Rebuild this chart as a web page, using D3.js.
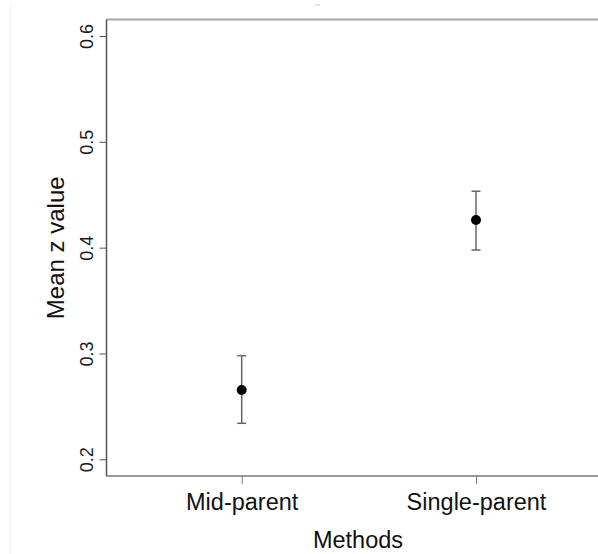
<!DOCTYPE html>
<html>
<head>
<meta charset="utf-8">
<script src="https://cdn.jsdelivr.net/npm/d3@7/dist/d3.min.js"></script>
<style>
  html, body { margin: 0; padding: 0; background: #fff; }
  svg { display: block; }
  text { font-family: "Liberation Sans", Arial, Helvetica, sans-serif; }
</style>
</head>
<body>
<svg id="chart" width="598" height="554"></svg>
<script>
// ---- data ----
const categories = ["Mid-parent", "Single-parent"];
const means = [0.2655, 0.4262];
const lowers = [0.2340, 0.3978];
const uppers = [0.2979, 0.4533];
const yTicks = [0.2, 0.3, 0.4, 0.5, 0.6];
const xTitle = "Methods";
const yTitle = "Mean z value";

// ---- layout ----
const svg = d3.select("#chart");
const plot = { left: 106.5, top: 19.5, right: 611, bottom: 476 };

const y = d3.scaleLinear().domain([0.1842, 0.6156]).range([plot.bottom, plot.top]);
const x = d3.scalePoint().domain(categories).range([241.7, 476]);

// faint frame line at far left
svg.append("line").attr("x1", 10.5).attr("x2", 10.5).attr("y1", 5).attr("y2", 554)
  .attr("stroke", "#f1f1f1").attr("stroke-width", 1);
svg.append("line").attr("x1", 315).attr("x2", 320).attr("y1", 5).attr("y2", 5)
  .attr("stroke", "#c8c8c8").attr("stroke-width", 1);

// box: top and bottom
svg.append("line").attr("x1", plot.left).attr("x2", plot.right).attr("y1", plot.top).attr("y2", plot.top)
  .attr("stroke", "#a8a8a8").attr("stroke-width", 2);
svg.append("line").attr("x1", plot.left).attr("x2", plot.right).attr("y1", plot.bottom).attr("y2", plot.bottom)
  .attr("stroke", "#999").attr("stroke-width", 2);

// y axis
const gy = svg.append("g").attr("transform", `translate(${plot.left},0)`)
  .call(d3.axisLeft(y).tickValues(yTicks).tickFormat(d3.format(".1f")).tickSize(7).tickSizeOuter(0));
gy.select(".domain").attr("stroke", "#555").attr("stroke-width", 1.5)
  .attr("d", `M0,${plot.top}V${plot.bottom}`);
gy.selectAll(".tick line").attr("stroke", "#555").attr("stroke-width", 1);
gy.selectAll(".tick text")
  .attr("transform", "rotate(-90)")
  .attr("x", 0).attr("y", -13.5).attr("dy", 0)
  .attr("text-anchor", "middle")
  .attr("fill", "#1a1a1a")
  .style("font-size", "18px");

// x axis
const gx = svg.append("g").attr("transform", `translate(0,${plot.bottom})`)
  .call(d3.axisBottom(x).tickSize(8).tickSizeOuter(0));
gx.select(".domain").remove();
gx.selectAll(".tick line").attr("stroke", "#777").attr("stroke-width", 1);
gx.selectAll(".tick text")
  .attr("y", 34).attr("dy", 0)
  .attr("fill", "#111")
  .style("font-size", "23.5px");

// axis titles
svg.append("text").attr("x", 358).attr("y", 548).attr("text-anchor", "middle")
  .style("font-size", "23.5px").attr("fill", "#111").text(xTitle);
svg.append("text")
  .attr("transform", `translate(64,${(plot.top + plot.bottom) / 2}) rotate(-90)`)
  .attr("text-anchor", "middle")
  .style("font-size", "24px").attr("fill", "#111").text(yTitle);

// error bars
const rows = categories.map((c, i) => ({ c, m: means[i], lo: lowers[i], hi: uppers[i] }));
const eb = svg.append("g");
eb.selectAll("line.v").data(rows).join("line").attr("class", "v")
  .attr("x1", d => x(d.c)).attr("x2", d => x(d.c))
  .attr("y1", d => y(d.lo)).attr("y2", d => y(d.hi))
  .attr("stroke", "#666").attr("stroke-width", 1.5);
eb.selectAll("line.top").data(rows).join("line").attr("class", "top")
  .attr("x1", d => x(d.c) - 4.5).attr("x2", d => x(d.c) + 4.5)
  .attr("y1", d => y(d.hi)).attr("y2", d => y(d.hi))
  .attr("stroke", "#666").attr("stroke-width", 1.5);
eb.selectAll("line.bot").data(rows).join("line").attr("class", "bot")
  .attr("x1", d => x(d.c) - 4.5).attr("x2", d => x(d.c) + 4.5)
  .attr("y1", d => y(d.lo)).attr("y2", d => y(d.lo))
  .attr("stroke", "#666").attr("stroke-width", 1.5);

// points
svg.append("g").selectAll("circle").data(rows).join("circle")
  .attr("cx", d => x(d.c)).attr("cy", d => y(d.m)).attr("r", 5)
  .attr("fill", "#000");
</script>
</body>
</html>
